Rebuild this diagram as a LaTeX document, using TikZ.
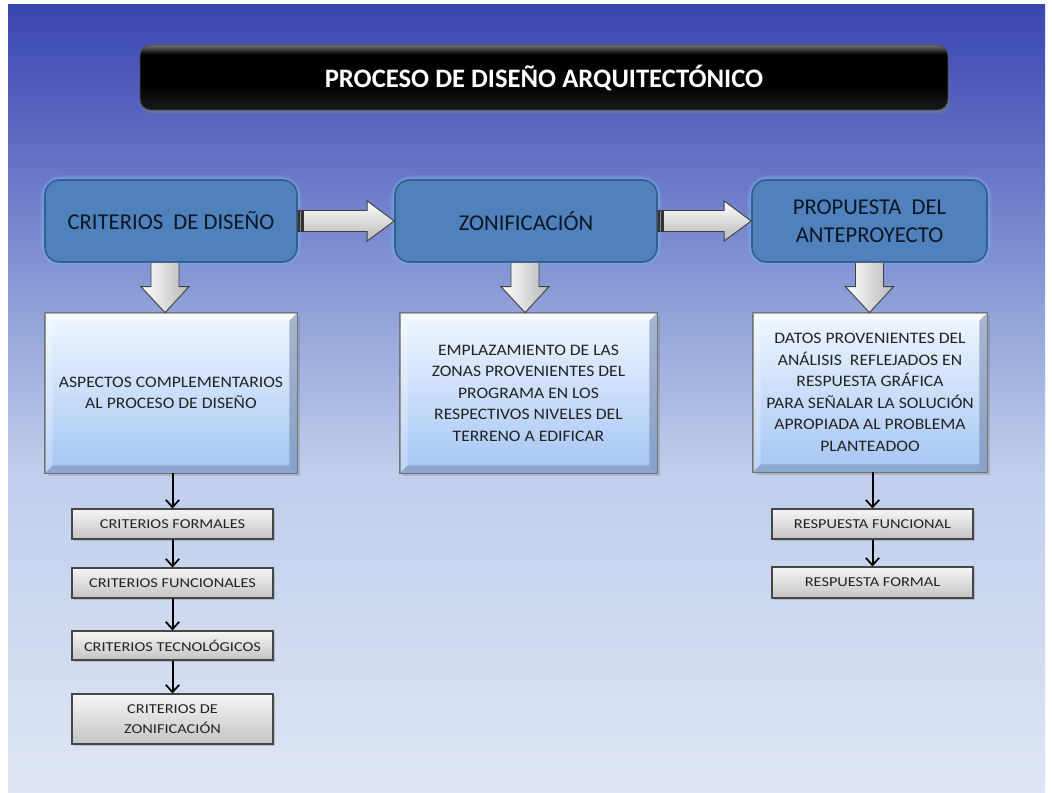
\documentclass[tikz,border=0pt]{standalone}
\usepackage{fontspec}
\setmainfont{Carlito}
\newfontfamily\lbfont[FakeStretch=1.1]{Carlito}
\newfontfamily\gbfont[FakeStretch=1.2]{Carlito}
\usetikzlibrary{calc,shadows,arrows.meta}
\definecolor{bgA}{RGB}{222,230,245}
\definecolor{bgB}{RGB}{192,206,236}
\definecolor{bgC}{RGB}{142,160,216}
\definecolor{bgD}{RGB}{96,110,196}
\definecolor{bgE}{RGB}{58,70,176}
\definecolor{topfill}{RGB}{79,129,189}
\definecolor{topline}{RGB}{56,93,138}
\definecolor{glow}{RGB}{120,170,240}
\definecolor{lbTop}{RGB}{240,247,255}
\definecolor{lbBot}{RGB}{165,197,244}
\definecolor{bevD}{RGB}{110,130,165}
\definecolor{txtD}{RGB}{35,35,35}
\definecolor{txtT}{RGB}{15,22,35}
\definecolor{gTop}{RGB}{246,246,246}
\definecolor{gBot}{RGB}{196,196,196}
\definecolor{edgeG}{RGB}{70,70,70}
\pgfdeclareverticalshading{bgsh}{100bp}{color(0bp)=(bgA); color(25bp)=(bgA); color(45.5bp)=(bgB); color(56bp)=(bgC); color(66bp)=(bgD); color(75bp)=(bgE); color(100bp)=(bgE)}
\pgfdeclareverticalshading{titlesh}{100bp}{color(0bp)=(black!90!white); color(25bp)=(black!90!white); color(45bp)=(black); color(68bp)=(black); color(75bp)=(black!55!white); color(100bp)=(black!55!white)}
\newcommand{\pxu}{0.75pt}
\tikzset{
  titlebox/.style={rounded corners=8pt, shading=titlesh, draw=black!70, line width=0.6pt,
    text=white, font=\bfseries\fontsize{20}{24}\selectfont,
    drop shadow={shadow xshift=1pt, shadow yshift=-2.5pt, opacity=0.45}},
  topbox/.style={rounded corners=11pt, fill=topfill, draw=topline, line width=1.2pt,
    text=txtT, align=center, font=\fontsize{17}{21}\selectfont},
  glowwide/.style={rounded corners=13pt, draw=glow, line width=7pt, opacity=0.3},
  glowbox/.style={rounded corners=12pt, draw=glow, line width=3.5pt, opacity=0.6},
  lightbox/.style={top color=lbTop, bottom color=lbBot, draw=black!55, line width=0.5pt,
    drop shadow={shadow xshift=2pt, shadow yshift=-2.5pt, opacity=0.35}},
  lbtext/.style={align=center, text=txtD, font=\lbfont\fontsize{12}{16.1}\selectfont},
  graybox/.style={top color=gTop, bottom color=gBot, draw=edgeG, line width=0.8pt,
    text=txtD, align=center, font=\gbfont\fontsize{10.2}{15}\selectfont,
    drop shadow={shadow xshift=1.5pt, shadow yshift=-1.5pt, opacity=0.35}},
  blockh/.style={top color=white, bottom color=black!28, draw=black!75, line width=0.7pt},
  blockv/.style={left color=white, right color=black!28, draw=black!75, line width=0.7pt},
  thinarr/.style={draw=black, line width=1.5pt, -{Straight Barb[length=5.5pt,width=10pt,line width=1.3pt]}},
}
\newcommand{\blockright}[2]{%
  \draw[blockh] ($(#1)+(0,-10.5)$) -- ($(#2)+(-27,-10.5)$) -- ($(#2)+(-27,-20)$) -- (#2)
     -- ($(#2)+(-27,20)$) -- ($(#2)+(-27,10.5)$) -- ($(#1)+(0,10.5)$) -- cycle;
  \fill[black!80] ($(#1)+(0,-10.5)$) rectangle ($(#1)+(6,10.5)$);
  \draw[black!45, line width=0.6pt] ($(#1)+(3,-10)$) -- ($(#1)+(3,10)$);
}
\newcommand{\blockdown}[2]{%
  \draw[blockv] ($(#1)+(-14,0)$) -- ($(#2)+(-14,-26)$) -- ($(#2)+(-24,-26)$) -- (#2)
     -- ($(#2)+(24,-26)$) -- ($(#2)+(14,-26)$) -- ($(#1)+(14,0)$);
}
\newcommand{\bevel}[1]{%
  \fill[white,opacity=0.45] (#1.north west) -- (#1.north east) -- ($(#1.north east)+(-8,8)$) -- ($(#1.north west)+(8,8)$) -- cycle;
  \fill[white,opacity=0.25] (#1.north west) -- ($(#1.north west)+(8,8)$) -- ($(#1.south west)+(8,-8)$) -- (#1.south west) -- cycle;
  \fill[bevD,opacity=0.55] (#1.north east) -- (#1.south east) -- ($(#1.south east)+(-8,-8)$) -- ($(#1.north east)+(-8,8)$) -- cycle;
  \fill[bevD,opacity=0.45] (#1.south west) -- (#1.south east) -- ($(#1.south east)+(-8,-8)$) -- ($(#1.south west)+(8,-8)$) -- cycle;
  \draw[black!55, line width=0.5pt] (#1.north west) rectangle (#1.south east);
}
\begin{document}
\begin{tikzpicture}[x=0.75pt,y=-0.75pt]
\useasboundingbox (0,0) rectangle (1052,792);
\fill[white] (0,0) rectangle (1052,792);
\shade[shading=bgsh] (8,5) rectangle (1045,792);

% title
\node[titlebox, minimum width=808*\pxu, minimum height=65*\pxu] (title) at (544,77.5) {PROCESO DE DISEÑO ARQUITECTÓNICO};

% top boxes (glow first)
\draw[glowwide] (45,180) rectangle (297,262);
\draw[glowwide] (395,180) rectangle (657,262);
\draw[glowwide] (752,180) rectangle (987,262);
\draw[glowbox] (45,180) rectangle (297,262);
\draw[glowbox] (395,180) rectangle (657,262);
\draw[glowbox] (752,180) rectangle (987,262);
\node[topbox, minimum width=252*\pxu, minimum height=82*\pxu] (c1) at (171,221) {CRITERIOS~ DE DISEÑO};
\node[topbox, minimum width=262*\pxu, minimum height=82*\pxu] (c2) at (526,221) {ZONIFICACIÓN};
\node[topbox, minimum width=235*\pxu, minimum height=82*\pxu] (c3) at (869.5,221) {PROPUESTA~ DEL\\ANTEPROYECTO};

% light boxes
\node[lightbox, minimum width=252*\pxu, minimum height=160*\pxu] (a) at (171,393) {};
\bevel{a}
\node[lbtext] (at) at (a.center) {ASPECTOS COMPLEMENTARIOS\\AL PROCESO DE DISEÑO};
\node[lightbox, minimum width=257*\pxu, minimum height=160*\pxu] (b) at (528.5,393) {};
\bevel{b}
\node[lbtext] (bt) at (b.center) {EMPLAZAMIENTO DE LAS\\ZONAS PROVENIENTES DEL\\PROGRAMA EN LOS\\RESPECTIVOS NIVELES DEL\\TERRENO A EDIFICAR};
\node[lightbox, minimum width=234*\pxu, minimum height=159*\pxu] (c) at (870,392.5) {};
\bevel{c}
\node[lbtext] (ct) at (c.center) {DATOS PROVENIENTES DEL\\ANÁLISIS~ REFLEJADOS EN\\RESPUESTA GRÁFICA\\PARA SEÑALAR LA SOLUCIÓN\\APROPIADA AL PROBLEMA\\PLANTEADOO};

% block arrows
\blockright{c1.east}{c2.west}
\blockright{c2.east}{c3.west}
\coordinate (d1s) at ($(c1.south)+(-6,0)$);
\coordinate (d1t) at (d1s |- a.north);
\coordinate (d2s) at ($(c2.south)+(-1,0)$);
\coordinate (d2t) at (d2s |- b.north);
\coordinate (d3s) at (c3.south);
\coordinate (d3t) at (d3s |- c.north);
\blockdown{d1s}{d1t}
\blockdown{d2s}{d2t}
\blockdown{d3s}{d3t}

% gray boxes
\node[graybox, minimum width=201*\pxu, minimum height=30*\pxu] (f1) at (172.5,524) {CRITERIOS FORMALES};
\node[graybox, minimum width=201*\pxu, minimum height=30*\pxu] (f2) at (172.5,583) {CRITERIOS FUNCIONALES};
\node[graybox, minimum width=201*\pxu, minimum height=29*\pxu] (f3) at (172.5,645.5) {CRITERIOS TECNOLÓGICOS};
\node[graybox, minimum width=201*\pxu, minimum height=50*\pxu] (f4) at (172.5,719) {CRITERIOS DE\\ZONIFICACIÓN};
\node[graybox, minimum width=201*\pxu, minimum height=30*\pxu] (r1) at (872.5,524) {RESPUESTA FUNCIONAL};
\node[graybox, minimum width=201*\pxu, minimum height=31*\pxu] (r2) at (872.5,582.5) {RESPUESTA FORMAL};

% thin arrows
\draw[thinarr] (a.south -| f1.north) -- (f1.north);
\draw[thinarr] (f1) -- (f2);
\draw[thinarr] (f2) -- (f3);
\draw[thinarr] (f3) -- (f4);
\draw[thinarr] (c.south -| r1.north) -- (r1.north);
\draw[thinarr] (r1) -- (r2);
\end{tikzpicture}
\end{document}
